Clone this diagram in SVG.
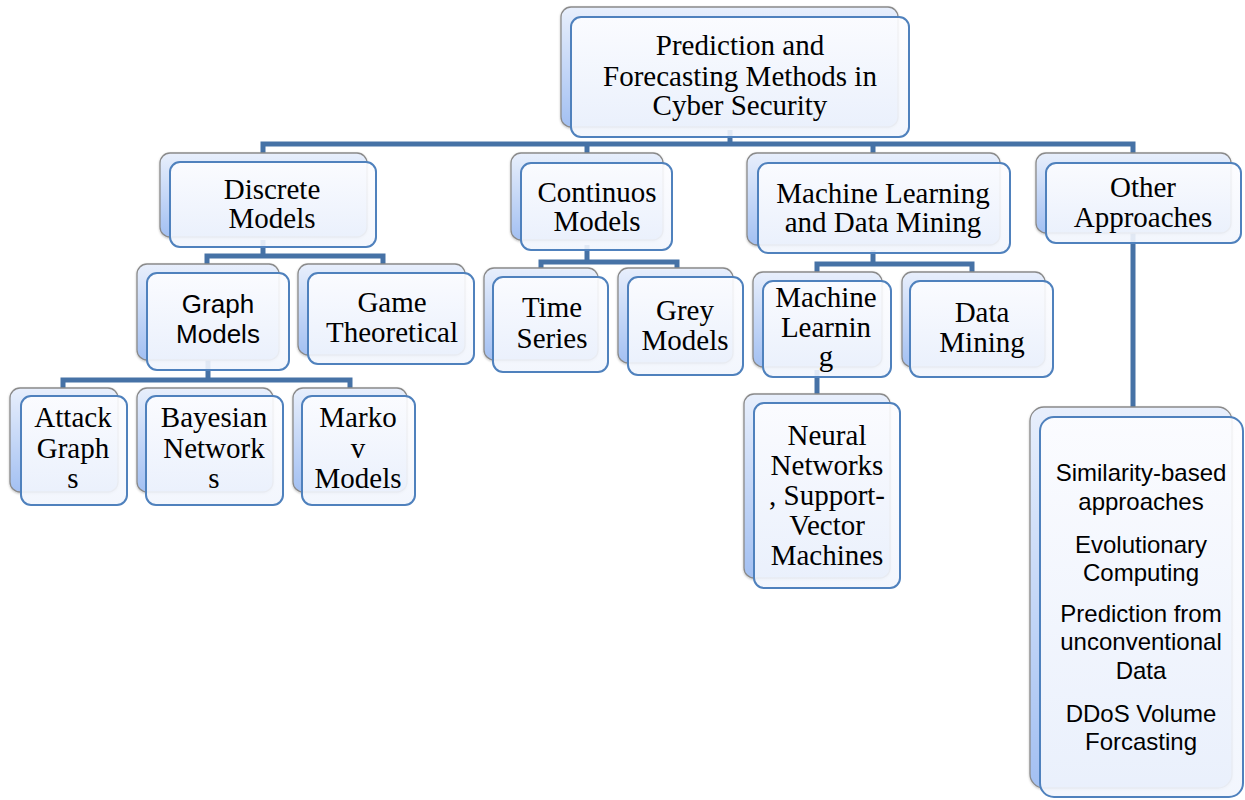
<svg xmlns="http://www.w3.org/2000/svg" width="1245" height="800" viewBox="0 0 1245 800">
<defs>
<linearGradient id="gBack" x1="0" y1="0" x2="0" y2="1">
<stop offset="0" stop-color="#e8effc"/>
<stop offset="1" stop-color="#a3c0f2"/>
</linearGradient>
<linearGradient id="gFront" x1="0" y1="0" x2="0" y2="1">
<stop offset="0" stop-color="#fdfdff"/>
<stop offset="1" stop-color="#f1f5fd"/>
</linearGradient>
<filter id="sh" x="-10%" y="-10%" width="120%" height="120%">
<feDropShadow dx="0" dy="1" stdDeviation="1" flood-color="#000" flood-opacity="0.25"/>
</filter>
</defs>
<style>
.back{fill:url(#gBack);stroke:#8a8a8a;stroke-width:1.3;filter:url(#sh)}
.front{fill:url(#gFront);fill-opacity:0.9;stroke:#4f81bd;stroke-width:2}
.con{fill:none;stroke:#4672a6;stroke-width:5}
.serif{font-family:"Liberation Serif","Times New Roman",serif;font-size:29px;fill:#000;text-anchor:middle}
.sans{font-family:"Liberation Sans",Arial,sans-serif;font-size:26px;fill:#000;text-anchor:middle}
.sans2{font-family:"Liberation Sans",Arial,sans-serif;font-size:24px;fill:#000;text-anchor:middle}
</style>
<g id="connectors">
<path class="con" d="M730,130 V144"/>
<path class="con" d="M263,160 V144 H1133 V410"/>
<path class="con" d="M587,144 V160"/>
<path class="con" d="M873,144 V160"/>
<path class="con" d="M263,240 V256"/>
<path class="con" d="M207,270 V256 H383 V270"/>
<path class="con" d="M208,360 V380"/>
<path class="con" d="M63,392 V380 H350 V392"/>
<path class="con" d="M587,245 V262"/>
<path class="con" d="M541,272 V262 H677 V272"/>
<path class="con" d="M873,250 V264"/>
<path class="con" d="M817,276 V264 H972 V276"/>
<path class="con" d="M817,370 V400"/>
</g>
<g id="root">
<rect class="back" x="561" y="7" width="337" height="120" rx="10"/>
<rect class="front" x="571" y="17" width="338" height="120" rx="10"/>
<text class="serif"><tspan x="740" y="55">Prediction and</tspan><tspan x="740" y="86">Forecasting Methods in</tspan><tspan x="740" y="115">Cyber Security</tspan></text>
</g>
<g id="discrete">
<rect class="back" x="160" y="153" width="207" height="84" rx="10"/>
<rect class="front" x="170" y="162" width="206" height="85" rx="10"/>
<text class="serif"><tspan x="272" y="199">Discrete</tspan><tspan x="272" y="228">Models</tspan></text>
</g>
<g id="continuos">
<rect class="back" x="511" y="153" width="152" height="87" rx="10"/>
<rect class="front" x="521" y="163" width="151" height="87" rx="10"/>
<text class="serif"><tspan x="597" y="202">Continuos</tspan><tspan x="597" y="231">Models</tspan></text>
</g>
<g id="mldm">
<rect class="back" x="747" y="153" width="253" height="92" rx="10"/>
<rect class="front" x="758" y="163" width="252" height="90" rx="10"/>
<text class="serif"><tspan x="883" y="203">Machine Learning</tspan><tspan x="883" y="232">and Data Mining</tspan></text>
</g>
<g id="other">
<rect class="back" x="1036" y="153" width="195" height="80" rx="10"/>
<rect class="front" x="1046" y="163" width="195" height="80" rx="10"/>
<text class="serif"><tspan x="1143" y="197">Other</tspan><tspan x="1143" y="227">Approaches</tspan></text>
</g>
<g id="graph">
<rect class="back" x="137" y="264" width="142" height="96" rx="10"/>
<rect class="front" x="147" y="273" width="142" height="97" rx="10"/>
<text class="sans"><tspan x="218" y="313">Graph</tspan><tspan x="218" y="343">Models</tspan></text>
</g>
<g id="game">
<rect class="back" x="298" y="264" width="167" height="91" rx="10"/>
<rect class="front" x="308" y="273" width="166" height="91" rx="10"/>
<text class="serif"><tspan x="392" y="312">Game</tspan><tspan x="392" y="342">Theoretical</tspan></text>
</g>
<g id="time">
<rect class="back" x="484" y="268" width="114" height="92" rx="10"/>
<rect class="front" x="493" y="277" width="115" height="95" rx="10"/>
<text class="serif"><tspan x="552" y="317">Time</tspan><tspan x="552" y="348">Series</tspan></text>
</g>
<g id="grey">
<rect class="back" x="618" y="268" width="115" height="95" rx="10"/>
<rect class="front" x="628" y="277" width="115" height="98" rx="10"/>
<text class="serif"><tspan x="685" y="320">Grey</tspan><tspan x="685" y="350">Models</tspan></text>
</g>
<g id="ml">
<rect class="back" x="753" y="272" width="129" height="95" rx="10"/>
<rect class="front" x="763" y="281" width="128" height="96" rx="10"/>
<text class="serif"><tspan x="826" y="307">Machine</tspan><tspan x="826" y="337">Learnin</tspan><tspan x="826" y="366">g</tspan></text>
</g>
<g id="dm">
<rect class="back" x="902" y="272" width="143" height="95" rx="10"/>
<rect class="front" x="910" y="281" width="143" height="96" rx="10"/>
<text class="serif"><tspan x="982" y="322">Data</tspan><tspan x="982" y="352">Mining</tspan></text>
</g>
<g id="attack">
<rect class="back" x="10" y="388" width="108" height="104" rx="10"/>
<rect class="front" x="21" y="396" width="106" height="109" rx="10"/>
<text class="serif"><tspan x="73" y="427">Attack</tspan><tspan x="73" y="458">Graph</tspan><tspan x="73" y="488">s</tspan></text>
</g>
<g id="bayesian">
<rect class="back" x="137" y="388" width="136" height="104" rx="10"/>
<rect class="front" x="146" y="396" width="137" height="109" rx="10"/>
<text class="serif"><tspan x="214" y="427">Bayesian</tspan><tspan x="214" y="458">Network</tspan><tspan x="214" y="488">s</tspan></text>
</g>
<g id="markov">
<rect class="back" x="293" y="388" width="114" height="104" rx="10"/>
<rect class="front" x="302" y="396" width="113" height="109" rx="10"/>
<text class="serif"><tspan x="358" y="427">Marko</tspan><tspan x="358" y="458">v</tspan><tspan x="358" y="488">Models</tspan></text>
</g>
<g id="neural">
<rect class="back" x="744" y="394" width="146" height="184" rx="10"/>
<rect class="front" x="754" y="403" width="146" height="185" rx="10"/>
<text class="serif"><tspan x="827" y="445">Neural</tspan><tspan x="827" y="475">Networks</tspan><tspan x="827" y="505">, Support-</tspan><tspan x="827" y="535">Vector</tspan><tspan x="827" y="565">Machines</tspan></text>
</g>
<g id="otherlist">
<rect class="back" x="1030" y="407" width="202" height="381" rx="14"/>
<rect class="front" x="1040" y="417" width="203" height="380" rx="14"/>
<text class="sans2"><tspan x="1141" y="481">Similarity-based</tspan><tspan x="1141" y="510">approaches</tspan><tspan x="1141" y="553">Evolutionary</tspan><tspan x="1141" y="581">Computing</tspan><tspan x="1141" y="622">Prediction from</tspan><tspan x="1141" y="650">unconventional</tspan><tspan x="1141" y="679">Data</tspan><tspan x="1141" y="722">DDoS Volume</tspan><tspan x="1141" y="750">Forcasting</tspan></text>
</g>
</svg>
